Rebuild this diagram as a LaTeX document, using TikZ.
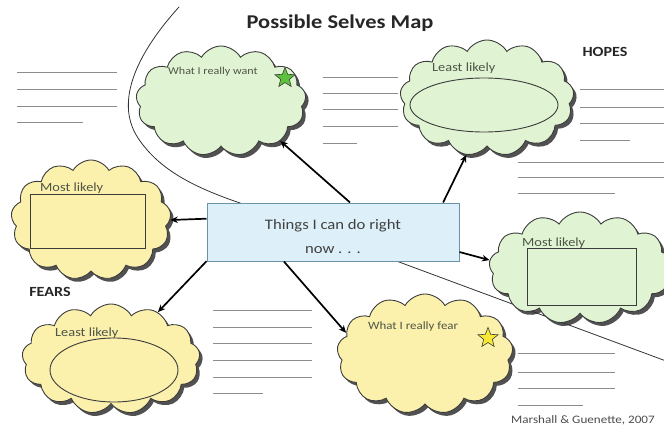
\documentclass[tikz,border=0pt]{standalone}
\usepackage{fontspec}
\setmainfont[FakeStretch=1.15]{Carlito}
\usetikzlibrary{shapes.symbols,shapes.geometric,shadows,arrows.meta}

\definecolor{hopefill}{HTML}{E0F4D3}
\definecolor{fearfill}{HTML}{FBF0AC}
\definecolor{boxfill}{HTML}{DDF0F9}
\definecolor{boxedge}{HTML}{6A93A8}
\definecolor{edgegray}{HTML}{3C3C3C}
\definecolor{labelgray}{HTML}{4F5548}
\definecolor{writegray}{HTML}{8C8C8C}
\definecolor{stargreen}{HTML}{5DC23B}
\definecolor{staryellow}{HTML}{F6E834}

\tikzset{
  puff/.style={cloud, cloud puffs=13, cloud puff arc=120, cloud ignores aspect,
    draw=edgegray, line width=0.9pt, inner sep=0pt,
    drop shadow={shadow xshift=3pt, shadow yshift=-3.4pt, fill=black!80, opacity=0.85}},
  hope/.style={puff, fill=hopefill},
  fear/.style={puff, fill=fearfill},
  inner/.style={draw=edgegray, line width=0.9pt, inner sep=0pt},
  tag/.style={text=labelgray, font=\fontsize{12.5}{14}\selectfont, inner sep=0pt},
  wish/.style={tag, font=\fontsize{10.5}{12}\selectfont},
  heading/.style={font=\bfseries\fontsize{14}{16}\selectfont, text=black!85, inner sep=0pt},
  link/.style={line width=1.7pt, -{Stealth[length=7.5pt,width=6.5pt]}},
  writeline/.style={draw=writegray, line width=0.8pt},
  starmark/.style={star, star points=5, star point ratio=2.3, draw=edgegray,
    line width=0.6pt, minimum size=21pt, inner sep=0pt}
}

\begin{document}
\begin{tikzpicture}[x=1pt,y=-1pt]
\useasboundingbox (0,0) rectangle (664,425);

% divider between hopes and fears
\draw[black!80, line width=0.8pt]
  (179,7) .. controls (140,50) and (113,100) .. (138,138)
  .. controls (158,168) and (190,186) .. (240,203) -- (666,361);

% title and side headings
\node[font=\bfseries\fontsize{19.5}{22}\selectfont, text=black!85, inner sep=0pt] (title) at (340,23) {Possible Selves Map};
\node[heading] (hopes) at (605,52) {HOPES};
\node[heading] (fears) at (50,292) {FEARS};
\node[text=black!70, font=\fontsize{11.4}{13}\selectfont, inner sep=0pt] (credit) at (583,420) {Marshall \& Guenette, 2007};

% writing lines
\foreach \y in {72,89,106} \draw[writeline] (17,\y) -- (117,\y);
\draw[writeline] (17,122) -- (83,122);
\foreach \y in {77,93,109,126} \draw[writeline] (323,\y) -- (398,\y);
\draw[writeline] (323,143) -- (357,143);
\foreach \y in {89,107,123} \draw[writeline] (580,\y) -- (664,\y);
\draw[writeline] (580,140) -- (630,140);
\foreach \y in {162,177} \draw[writeline] (518,\y) -- (664,\y);
\draw[writeline] (518,193) -- (615,193);
\foreach \y in {310,327,343,360,377} \draw[writeline] (213,\y) -- (312,\y);
\draw[writeline] (213,393) -- (263,393);
\foreach \y in {353,372,388} \draw[writeline] (518,\y) -- (615,\y);
\draw[writeline] (518,405) -- (583,405);

% hopes
\node[hope, minimum width=170pt, minimum height=110pt] (want) at (221,101) {};
\node[wish, anchor=west] (wantlbl) at (168,72) {What I really want};
\node[starmark, fill=stargreen] (wantstar) at (285,78) {};

\node[hope, minimum width=174pt, minimum height=116pt] (hopeleast) at (487,98) {};
\node[tag, anchor=west] (hopeleastlbl) at (432,68) {Least likely};
\node[inner, ellipse, fill=hopefill, minimum width=148pt, minimum height=54pt] (hopeoval) at (484,105) {};

\node[hope, minimum width=182pt, minimum height=112pt] (hopemost) at (580,268) {};
\node[tag, anchor=west] (hopemostlbl) at (522,243) {Most likely};
\node[inner, rectangle, fill=hopefill, minimum width=109pt, minimum height=57pt] (hopebox) at (581.5,276.5) {};

% fears
\node[fear, minimum width=160pt, minimum height=120pt] (fearmost) at (91,220) {};
\node[tag, anchor=west] (fearmostlbl) at (40,188) {Most likely};
\node[inner, rectangle, fill=fearfill, minimum width=115pt, minimum height=54pt] (fearbox) at (87.5,221) {};

\node[fear, minimum width=178pt, minimum height=110pt] (fearleast) at (111,359) {};
\node[tag, anchor=west] (fearleastlbl) at (55,333) {Least likely};
\node[inner, ellipse, fill=fearfill, minimum width=128pt, minimum height=64pt] (fearoval) at (114,370) {};

\node[fear, minimum width=176pt, minimum height=120pt] (feared) at (425,354) {};
\node[wish, font=\fontsize{11.2}{13}\selectfont, anchor=west] (fearedlbl) at (368,327) {What I really fear};
\node[starmark, fill=staryellow] (fearstar) at (488,338) {};

% centre box and its text
\node[draw=boxedge, fill=boxfill, line width=1pt, minimum width=252pt, minimum height=58pt] (now) at (333,232) {};
\node[align=center, text=black!75, font=\fontsize{14.5}{24}\selectfont, inner sep=0pt] (nowtext) at (333,237)
      {Things I can do right\\now . . .};

% links from the centre box
\draw[link] (now.60) -- (want.-34);
\draw[link] (now.15.6) -- (hopeleast.-110);
\draw[link] (now.-9) -- (hopemost.175);
\draw[link] (now.174.6) -- (fearmost.east);
\draw[link] (now.193) -- (fearleast.45);
\draw[link] (now.211) -- (feared.165);
\end{tikzpicture}
\end{document}
